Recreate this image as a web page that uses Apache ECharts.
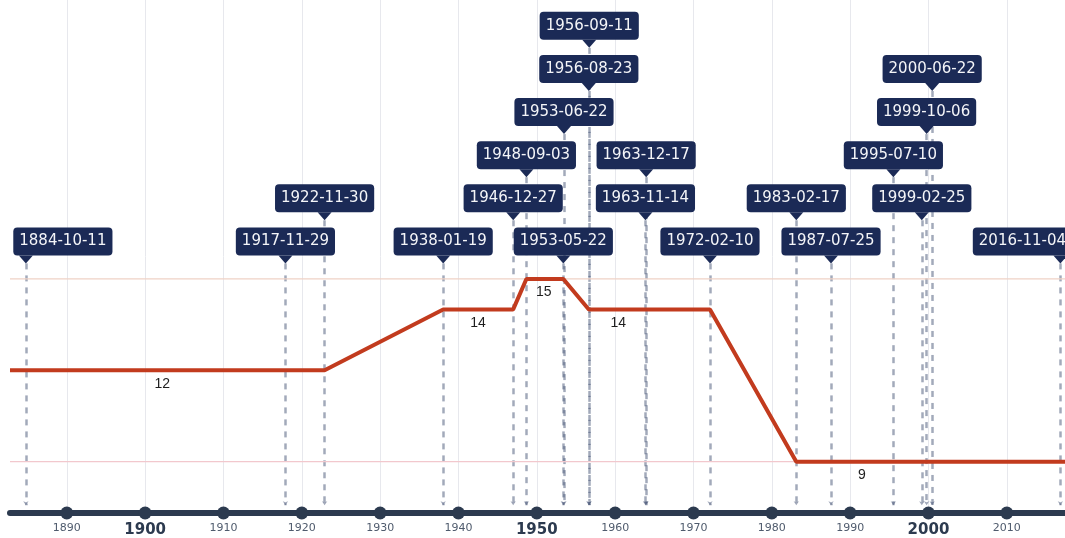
<!DOCTYPE html>
<html>
<head>
<meta charset="utf-8">
<script src="https://cdn.jsdelivr.net/npm/echarts@6/dist/echarts.min.js"></script>
<style>
html, body { margin: 0; padding: 0; background: #fff; }
#main { width: 1065px; height: 538px; }
</style>
</head>
<body>
<div id="main"></div>
<script>
// Dates of the events and the row (0 = lowest) of each callout box
const eventDates = ['1884-10-11', '1917-11-29', '1922-11-30', '1938-01-19', '1946-12-27',
    '1948-09-03', '1953-05-22', '1953-06-22', '1956-08-23', '1956-09-11', '1963-11-14',
    '1963-12-17', '1972-02-10', '1983-02-17', '1987-07-25', '1995-07-10', '1999-02-25',
    '1999-10-06', '2000-06-22', '2016-11-04'];
const eventRows = [0, 0, 1, 0, 1, 2, 0, 3, 4, 5, 1, 2, 0, 1, 0, 2, 1, 3, 4, 0];

// The value line (points where it changes)
const lineDates = ['1884-10-11', '1922-11-30', '1938-01-19', '1946-12-27', '1948-09-03',
    '1953-05-22', '1956-08-23', '1972-02-10', '1983-02-17', '2016-11-04'];
const lineValues = [12, 12, 14, 14, 15, 15, 14, 14, 9, 9];

// Value labels under the flat parts
const segmentYears = [1902.2, 1942.5, 1950.9, 1960.4, 1991.5];
const segmentValues = [12, 14, 15, 14, 9];

const maxValue = 15, minValue = 9;

const tickYears = [1890, 1900, 1910, 1920, 1930, 1940, 1950, 1960, 1970, 1980, 1990, 2000, 2010];

const xMin = 1882.75, xMax = 2017.43;
const yMin = 7.315, yMax = 24.16;
const rowMin = -5.79, rowMax = 6.11;

const navy = '#1b2a56';
const axisColor = '#2c3a4f';

// decimal year from 'YYYY-MM-DD'
function toYear(s) {
    const [y, m, d] = s.split('-').map(Number);
    const start = Date.UTC(y, 0, 1), end = Date.UTC(y + 1, 0, 1);
    return y + (Date.UTC(y, m - 1, d) - start) / (end - start);
}

let lineData = lineDates.map((d, i) => [toYear(d), lineValues[i]]);
lineData.unshift([xMin, lineValues[0]]);
lineData.push([xMax, lineValues[lineValues.length - 1]]);

// callouts at both ends are pushed inwards so they stay readable
const calloutData = eventDates.map((d, i) => {
    const item = { value: [toYear(d), eventRows[i], d] };
    if (i === 0) item.label = { offset: [37, 0] };
    if (i === eventDates.length - 1) item.label = { offset: [-38, 0] };
    return item;
});

// thin horizontal guide line drawn as a two-point line series
function refLine(value, color) {
    return {
        type: 'line',
        data: [[xMin, value], [xMax, value]],
        symbol: 'none',
        silent: true,
        z: 1,
        lineStyle: { width: 1.2, color: color, opacity: 1 }
    };
}

const chart = echarts.init(document.getElementById('main'));
const option = {
    animation: false,
    grid: { left: 10, right: 0, top: 0, bottom: 25 },
    xAxis: {
        type: 'value',
        min: xMin,
        max: xMax,
        axisLine: { onZero: false, lineStyle: { color: axisColor, width: 6 } },
        axisTick: { show: false, customValues: tickYears },
        axisLabel: {
            customValues: tickYears,
            margin: 10,
            formatter: v => (v % 50 === 0 ? '{b|' + v + '}' : '{s|' + v + '}'),
            rich: {
                b: { fontFamily: 'DejaVu Sans', fontWeight: 'bold', fontSize: 15, color: axisColor },
                s: { fontFamily: 'DejaVu Sans', fontSize: 11, color: '#4f5b6d' }
            }
        },
        splitLine: { show: true, lineStyle: { color: '#e7e8ed', width: 1 } }
    },
    yAxis: [
        { type: 'value', min: yMin, max: yMax, show: false, splitLine: { show: false } },
        { type: 'value', min: rowMin, max: rowMax, show: false, splitLine: { show: false } }
    ],
    series: [
        refLine(maxValue, '#efd2c6'),
        refLine(minValue, '#f2c8cd'),
        {
            // dashed drop lines from the callouts to the axis
            type: 'line',
            yAxisIndex: 1,
            data: [],
            z: 1,
            markLine: {
                silent: true,
                z: 1,
                symbol: ['none', 'arrow'],
                symbolSize: 4,
                label: { show: false },
                lineStyle: { type: [6, 6], width: 2.5, color: 'rgba(60,75,110,0.48)', opacity: 1 },
                data: eventDates.map((d, i) => [
                    { coord: [toYear(d), eventRows[i]] },
                    { coord: [toYear(d), rowMin + 0.18] }
                ])
            }
        },
        {
            type: 'line',
            data: lineData,
            symbol: 'none',
            z: 3,
            lineStyle: { color: '#c23b1e', width: 4 }
        },
        {
            type: 'scatter',
            data: segmentYears.map((x, i) => [x, segmentValues[i]]),
            symbolSize: 1,
            itemStyle: { color: 'rgba(0,0,0,0)', opacity: 1 },
            z: 3,
            label: {
                show: true,
                position: 'bottom',
                distance: 6,
                formatter: p => p.data[1],
                color: '#1e1e1e',
                fontFamily: 'Liberation Sans',
                fontSize: 14
            }
        },
        {
            // dots on the axis
            type: 'scatter',
            data: tickYears.map(y => [y, yMin]),
            symbolSize: 13,
            clip: false,
            z: 4,
            itemStyle: { color: axisColor, opacity: 1 }
        },
        {
            // callout boxes
            type: 'scatter',
            yAxisIndex: 1,
            data: calloutData,
            symbol: 'path://M0,0L14,0L7,8Z',
            symbolSize: [14, 8],
            symbolOffset: [0, -4],
            clip: false,
            z: 6,
            itemStyle: { color: navy, opacity: 1 },
            label: {
                show: true,
                position: 'top',
                distance: 0,
                formatter: p => p.data.value ? p.data.value[2] : p.value[2],
                backgroundColor: navy,
                color: '#f4f5f8',
                fontFamily: 'DejaVu Sans',
                fontSize: 15,
                lineHeight: 18,
                padding: [5, 6, 5, 6],
                borderRadius: 4
            }
        }
    ]
};
chart.setOption(option);
</script>
</body>
</html>
